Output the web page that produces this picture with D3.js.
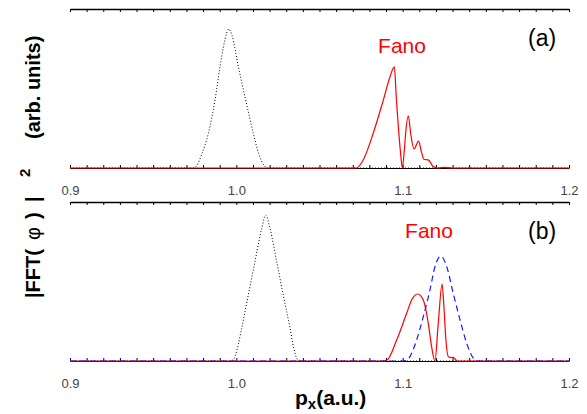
<!DOCTYPE html>
<html>
<head>
<meta charset="utf-8">
<script src="https://cdn.jsdelivr.net/npm/d3@7"></script>
<style>
  html, body { margin: 0; padding: 0; background: #fff; }
  svg { display: block; font-family: Arial, "Liberation Sans", Helvetica, sans-serif; }
</style>
</head>
<body>
<svg id="chart" width="587" height="414"></svg>
<script>
// ---- data ----
const xTickLabels = [0.9, 1.0, 1.1, 1.2];

// panel (a)
const aBlackX = [0.90, 0.974, 0.9762, 0.9792, 0.9832, 0.9872, 0.9902, 0.9942, 0.9954, 0.9975, 1.0012, 1.0056, 1.0102, 1.0135, 1.0168, 1.019, 1.20];
const aBlackY = [0, 0, 0.017, 0.10, 0.25, 0.49, 0.73, 0.97, 1.0, 0.95, 0.73, 0.49, 0.25, 0.10, 0.017, 0, 0];
const aRedX = [0.90, 1.072, 1.0763, 1.0823, 1.0884, 1.0924, 1.0950, 1.0962, 1.0975, 1.0988, 1.0998, 1.1010, 1.1018, 1.1034, 1.1048, 1.1068, 1.1096, 1.1112, 1.1128, 1.1154, 1.1184, 1.1212, 1.125, 1.13, 1.20];
const aRedY = [0, 0, 0.058, 0.25, 0.49, 0.657, 0.727, 0.50, 0.28, 0.10, 0, 0.13, 0.25, 0.376, 0.25, 0.137, 0.194, 0.12, 0.063, 0.058, 0.01, 0, 0.005, 0, 0];

// panel (b)
const bBlackX = [0.90, 0.996, 0.9982, 1.0006, 1.0032, 1.0072, 1.0112, 1.0153, 1.0177, 1.0202, 1.0243, 1.0282, 1.0323, 1.0346, 1.0369, 1.04, 1.20];
const bBlackY = [0, 0, 0.01, 0.09, 0.235, 0.475, 0.714, 0.955, 1.05, 0.955, 0.714, 0.475, 0.235, 0.09, 0.01, 0, 0];
const bBlueX = [0.90, 1.100, 1.1024, 1.1084, 1.1124, 1.1164, 1.1194, 1.1230, 1.1265, 1.1304, 1.1345, 1.1385, 1.1425, 1.145, 1.20];
const bBlueY = [0, 0, 0.005, 0.151, 0.319, 0.51, 0.678, 0.755, 0.678, 0.487, 0.295, 0.127, 0.02, 0, 0];
const bRedX = [0.90, 1.088, 1.0904, 1.0964, 1.1024, 1.1054, 1.1090, 1.1124, 1.1154, 1.1174, 1.1194, 1.1214, 1.1237, 1.1248, 1.1260, 1.1275, 1.1290, 1.1304, 1.1329, 1.20];
const bRedY = [0, 0, 0.005, 0.151, 0.343, 0.439, 0.482, 0.439, 0.271, 0.103, 0, 0.271, 0.554, 0.39, 0.151, 0.03, 0.025, 0.027, 0, 0];

// ---- layout ----
const svg = d3.select("#chart");
const X0 = 70, X1 = 569;
const x = d3.scaleLinear().domain([0.9, 1.2]).range([X0, X1]);
const panels = [
  { top: 9, bottom: 168, label: "(a)", fano: [402, 53], series: [
      { xs: aBlackX, ys: aBlackY, color: "#000", dash: "1,2", w: 1 },
      { xs: aRedX, ys: aRedY, color: "#ff0000", dash: null, w: 1.2 } ] },
  { top: 202, bottom: 361, label: "(b)", fano: [429, 238], series: [
      { xs: bBlackX, ys: bBlackY, color: "#000", dash: "1,2", w: 1 },
      { xs: bRedX, ys: bRedY, color: "#ff0000", dash: null, w: 1.2 },
      { xs: bBlueX, ys: bBlueY, color: "#1a1aff", dash: "6,4", w: 1.2 } ] }
];
const minorTicks = d3.range(0, 31).map(i => 0.9 + i * 0.01);

panels.forEach(p => {
  const y = d3.scaleLinear().domain([0, 1.144]).range([p.bottom, p.top]);
  const g = svg.append("g");

  const topAx = g.append("g").attr("transform", `translate(0,${p.top})`)
    .call(d3.axisBottom(x).tickValues(minorTicks).tickSize(3).tickSizeOuter(0).tickFormat(""));
  topAx.select(".domain").attr("stroke-width", 1.4);
  topAx.selectAll(".tick line").attr("stroke-width", 1);

  const botAx = g.append("g").attr("transform", `translate(0,${p.bottom})`)
    .call(d3.axisTop(x).tickValues(minorTicks).tickSize(3).tickSizeOuter(0).tickFormat(""));
  botAx.select(".domain").attr("stroke-width", 1);

  const lab = g.append("g").attr("transform", `translate(0,${p.bottom})`)
    .call(d3.axisBottom(x).tickValues(xTickLabels).tickSize(0).tickPadding(18).tickFormat(d3.format(".1f")));
  lab.select(".domain").remove();
  lab.selectAll("text").attr("font-size", 13).attr("fill", "#444")
     .attr("font-family", "Arial, 'Liberation Sans', sans-serif");

  p.series.forEach(s => {
    const pts = s.xs.map((v, i) => [v, s.ys[i]]);
    const line = d3.line().x(d => x(d[0])).y(d => y(d[1])).curve(d3.curveMonotoneX);
    g.append("path").datum(pts).attr("d", line)
      .attr("fill", "none").attr("stroke", s.color).attr("stroke-width", s.w)
      .attr("stroke-dasharray", s.dash);
  });

  g.append("text").attr("x", p.fano[0]).attr("y", p.fano[1]).attr("text-anchor", "middle")
    .attr("font-size", 21).attr("fill", "#ff0000").text("Fano");
  g.append("text").attr("x", 528).attr("y", p.top + 37).attr("font-size", 23)
    .attr("fill", "#000").text(p.label);
});

// x axis title
const xt = svg.append("text").attr("x", 295).attr("y", 405)
  .attr("font-size", 21).attr("font-weight", "bold").attr("fill", "#000");
xt.append("tspan").text("p");
xt.append("tspan").attr("font-size", 15).attr("dy", 4).text("x");
xt.append("tspan").attr("dy", -4).text("(a.u.)");

// y axis title (rotated)
const yt = svg.append("text").attr("transform", "translate(40,0) rotate(-90)")
  .attr("font-size", 20).attr("font-weight", "bold").attr("fill", "#000");
yt.append("tspan").attr("x", -298).text("|FFT(");
yt.append("tspan").attr("x", -240).attr("font-weight", "normal").text("φ");
yt.append("tspan").attr("x", -219).text(")");
yt.append("tspan").attr("x", -202).text("|");
yt.append("tspan").attr("x", -177).attr("font-size", 15).attr("dy", -10).text("2");
yt.append("tspan").attr("x", -139).attr("dy", 10).text("(arb. units)");
</script>
</body>
</html>
